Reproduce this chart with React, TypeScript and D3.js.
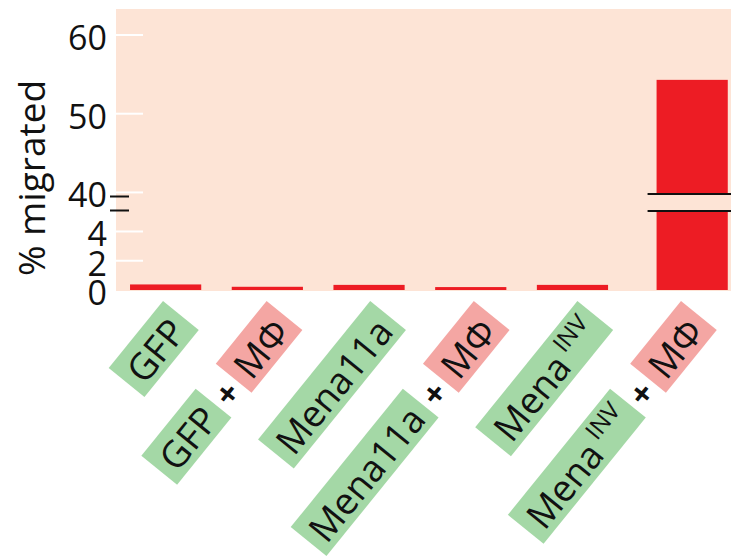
import React, { useEffect, useRef } from "react";
import * as d3 from "d3";

// ---- data ----
const categories = ["GFP", "GFP + MΦ", "Mena11a", "Mena11a + MΦ", "MenaINV", "MenaINV + MΦ"];
const cellLines = ["GFP", "GFP", "Mena11a", "Mena11a", "Mena", "Mena"];
const cellSuper = ["", "", "", "", "INV", "INV"];
const withMacrophage = [false, true, false, true, false, true];
const migrated = [0.38, 0.22, 0.35, 0.2, 0.35, 54.3];
const lowTicks = [0, 2, 4];
const highTicks = [40, 50, 60];
const lowDomain = [0, 5.4];
const highDomain = [39.8, 63.3];
const macrophageLabel = "MΦ";
const yTitle = "% migrated";

const W = 731;
const H = 557;
const FONT = "'Open Sans', 'Noto Sans', sans-serif";
const BG = "#fde4d6";
const RED = "#ed1c24";
const GREEN = "#a4d8a6";
const PINK = "#f4a6a3";

export default function App() {
  const ref = useRef<SVGSVGElement | null>(null);

  useEffect(() => {
    const svg = d3.select(ref.current);
    svg.selectAll("*").remove();

    const plotL = 116, plotR = 731, plotT = 9, plotB = 290;
    const breakTop = 194, breakBot = 211;

    const yLow = d3.scaleLinear().domain(lowDomain).range([plotB, breakBot]);
    const yHigh = d3.scaleLinear().domain(highDomain).range([breakTop, plotT]);

    const x = d3.scaleBand<string>().domain(categories).range([116, 116 + 101.3 * 6]).paddingInner(0.3).paddingOuter(0.138);
    const lastGap = 18;
    const xPos = (c: string, i: number) => (x(c) as number) + (i === categories.length - 1 ? lastGap : 0);
    const labelX = d3.scalePoint<string>().domain(categories).range([163, 681]);

    // background
    svg.append("rect").attr("x", plotL).attr("y", plotT).attr("width", plotR - plotL).attr("height", plotB - plotT + 1).attr("fill", BG);

    // ticks
    const ticks = [
      ...lowTicks.map((t) => ({ t, y: yLow(t) })),
      ...highTicks.map((t) => ({ t, y: yHigh(t) })),
    ];
    ticks.forEach(({ t, y }) => {
      if (t !== 0)
        svg.append("line").attr("x1", plotL).attr("x2", plotL + 27).attr("y1", y).attr("y2", y).attr("stroke", "#fff").attr("stroke-width", 2);
      svg.append("text").attr("x", 107).attr("y", y + 2).attr("text-anchor", "end").attr("dominant-baseline", "central")
        .attr("font-family", FONT).attr("font-size", 34).attr("fill", "#111").text(String(t));
    });

    // axis break marks
    [196.5, 210.5].forEach((yy) => {
      svg.append("line").attr("x1", 110).attr("x2", 129).attr("y1", yy).attr("y2", yy).attr("stroke", "#111").attr("stroke-width", 2);
    });

    // bars
    categories.forEach((c, i) => {
      const v = migrated[i];
      const top = v > lowDomain[1] ? yHigh(v) : yLow(v);
      svg.append("rect").attr("x", xPos(c, i)).attr("y", top).attr("width", x.bandwidth()).attr("height", plotB - top).attr("fill", RED);
      if (v > lowDomain[1]) {
        const bx = xPos(c, i) - 9;
        svg.append("rect").attr("x", bx).attr("y", breakTop).attr("width", plotR - bx).attr("height", breakBot - breakTop).attr("fill", BG);
        [breakTop, breakBot].forEach((yy) => {
          svg.append("line").attr("x1", bx).attr("x2", plotR).attr("y1", yy).attr("y2", yy).attr("stroke", "#111").attr("stroke-width", 2);
        });
      }
    });

    // y title
    svg.append("text").attr("transform", "translate(30,178) rotate(-90)").attr("text-anchor", "middle").attr("dominant-baseline", "central")
      .attr("font-family", FONT).attr("font-size", 37).attr("fill", "#111").text(yTitle);

    // category labels
    const boxH = 46, pad = 9, plusGap = 32, labFont = 37;
    categories.forEach((c, i) => {
      const g = svg.append("g").attr("transform", `translate(${labelX(c)},301) rotate(-51)`);
      let right = 0;
      const addBox = (fill: string, main: string, sup: string) => {
        const rect = g.append("rect").attr("y", 0).attr("height", boxH).attr("fill", fill);
        const t = g.append("text").attr("y", boxH / 2 + 1).attr("text-anchor", "middle").attr("dominant-baseline", "central")
          .attr("font-family", FONT).attr("font-size", labFont).attr("fill", "#111");
        t.append("tspan").text(main);
        if (sup) t.append("tspan").attr("font-size", 24).attr("dx", 6).attr("dy", -11).text(sup);
        const len = (t.node() as SVGTextElement).getComputedTextLength();
        const L = len + 2 * pad + (sup ? 8 : 0);
        rect.attr("x", right - L).attr("width", L);
        t.attr("x", right - L / 2);
        right -= L;
      };
      if (withMacrophage[i]) {
        addBox(PINK, macrophageLabel, "");
        g.append("text").attr("x", right - plusGap / 2).attr("y", boxH / 2 + 4).attr("text-anchor", "middle").attr("dominant-baseline", "central")
          .attr("font-family", FONT).attr("font-weight", 700).attr("font-size", 34).attr("fill", "#111").text("+");
        right -= plusGap;
      }
      addBox(GREEN, cellLines[i], cellSuper[i]);
    });
  }, []);

  return (
    <svg ref={ref} width={W} height={H} style={{ position: "absolute", left: 0, top: 0, background: "#fff" }} />
  );
}
